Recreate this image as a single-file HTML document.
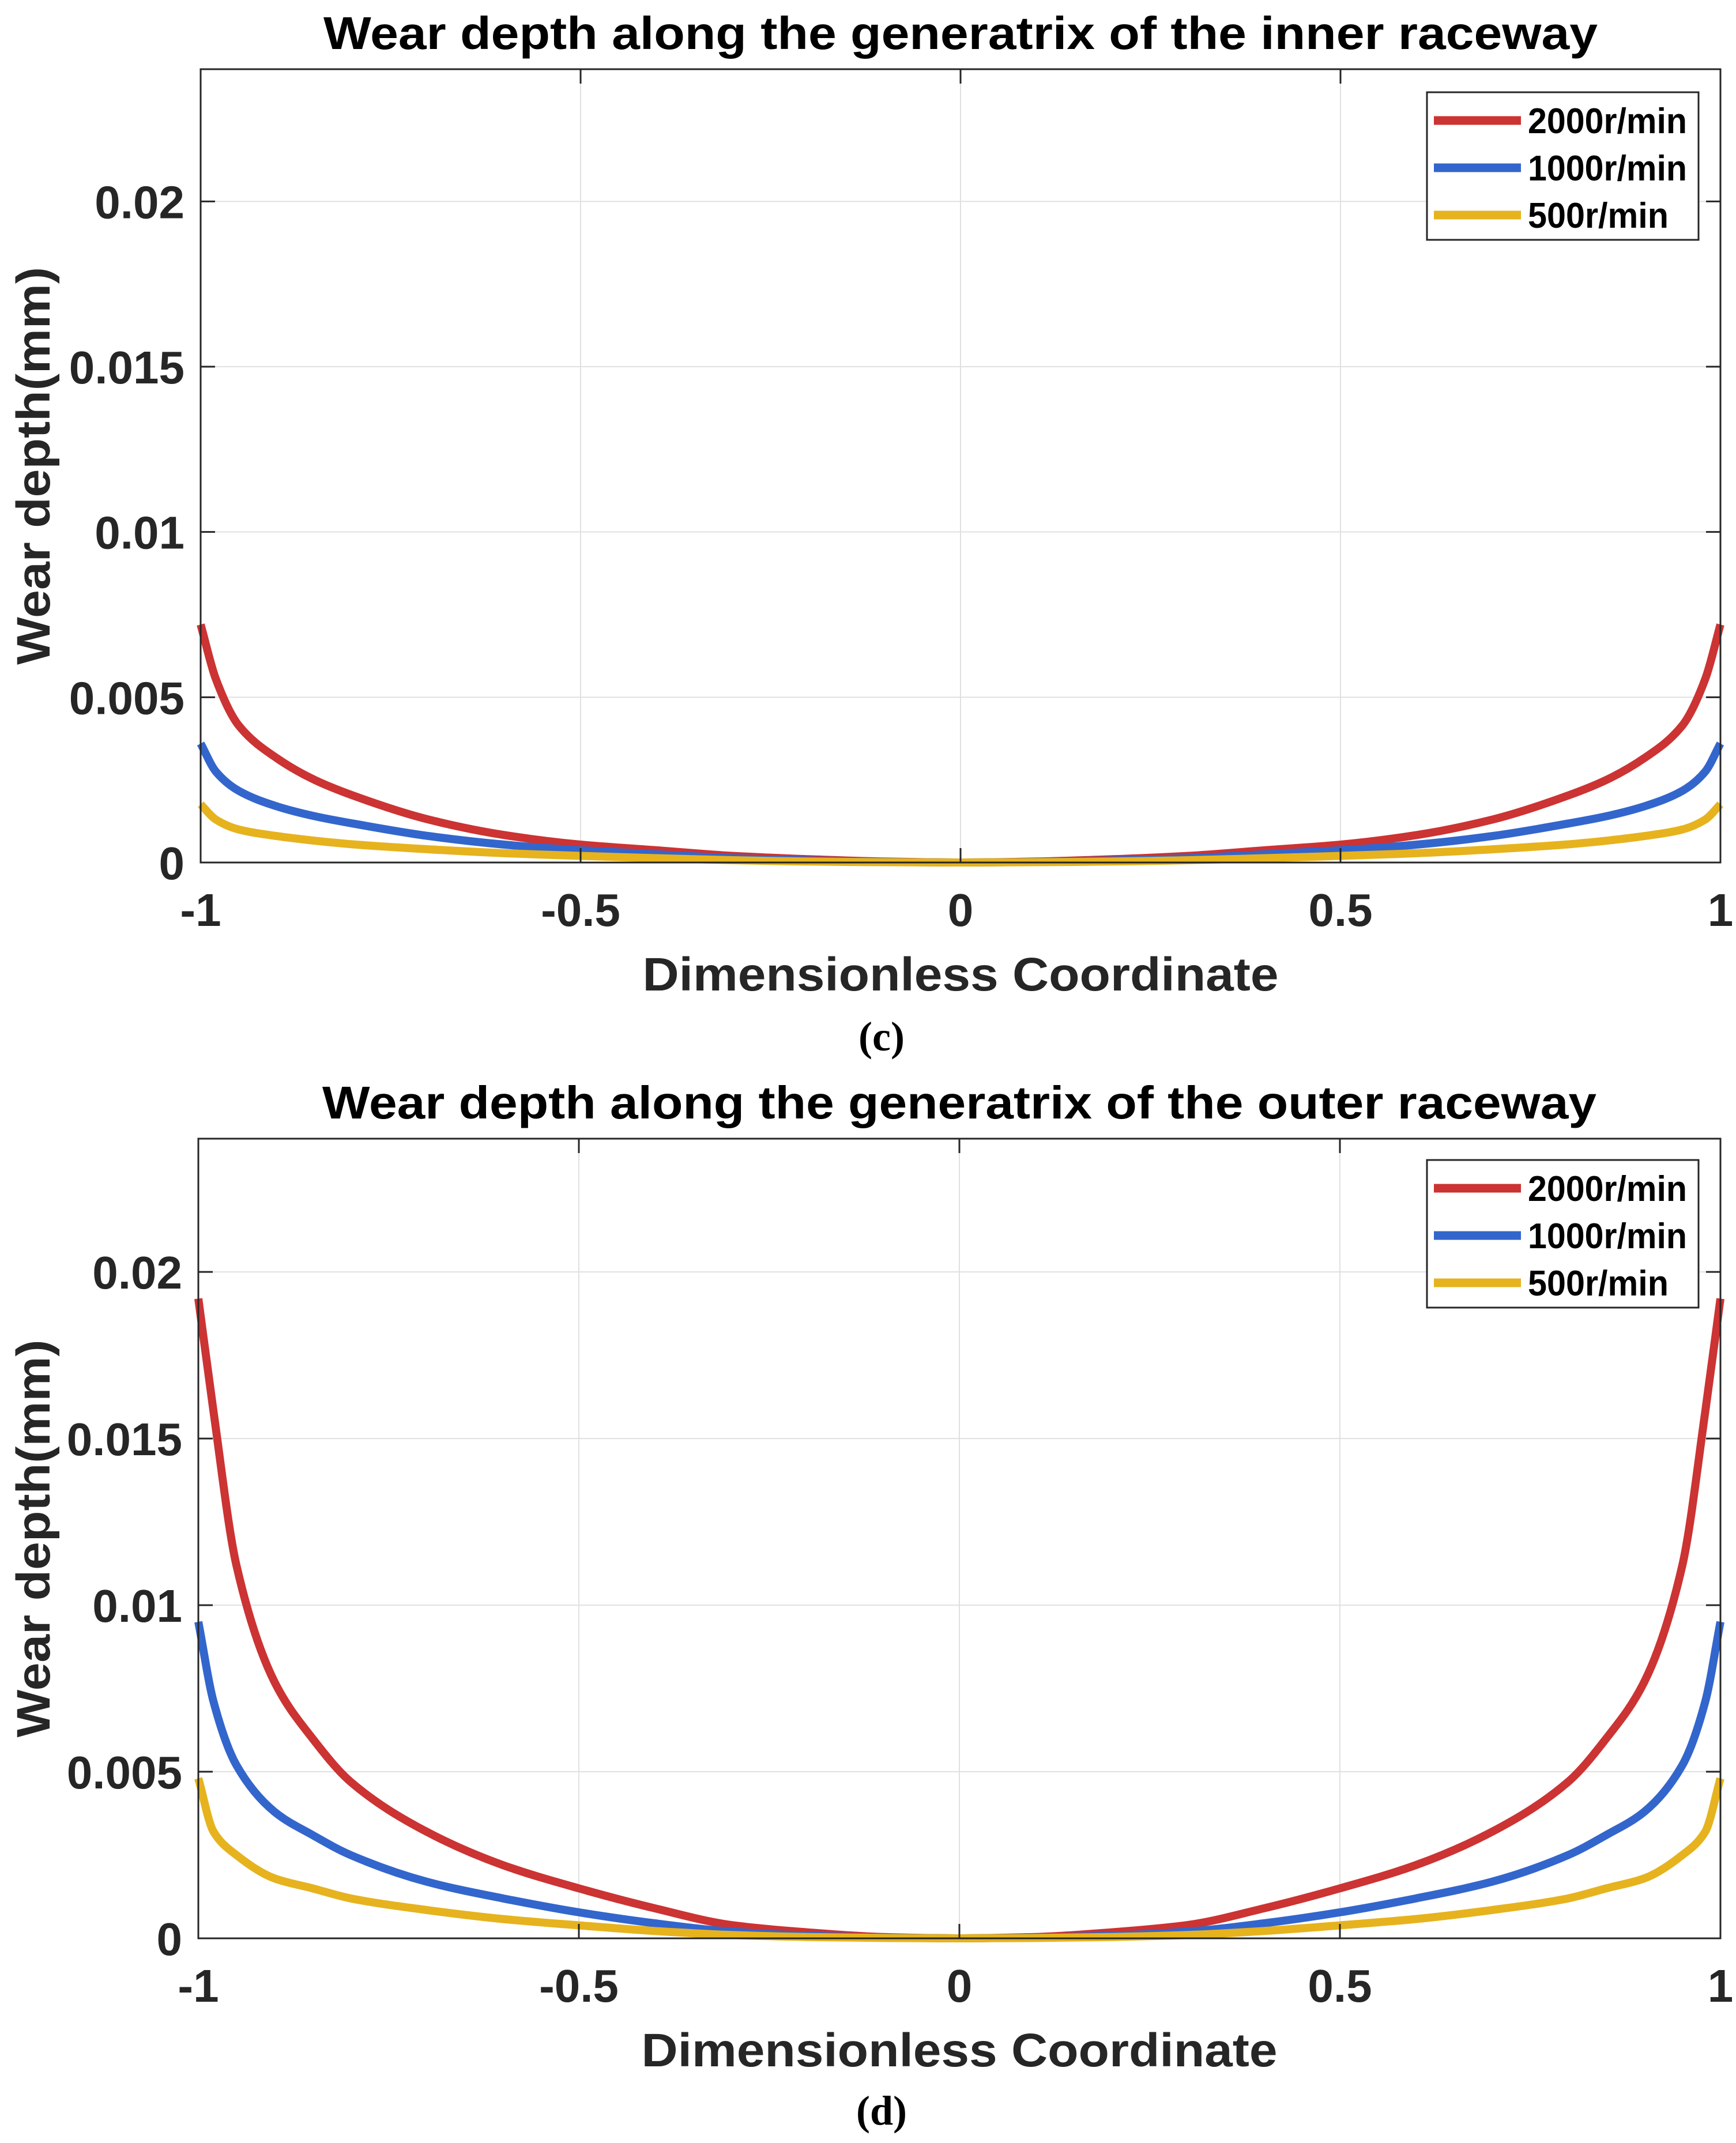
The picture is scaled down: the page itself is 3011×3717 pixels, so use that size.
<!DOCTYPE html>
<html><head><meta charset="utf-8"><style>
html,body{margin:0;padding:0;background:#fff;}
svg{display:block;font-family:"Liberation Sans",Arial,sans-serif;}
</style></head><body>
<svg id="fig" width="3011" height="3717" viewBox="0 0 3011 3717" xmlns="http://www.w3.org/2000/svg"></svg>
<script>
const xTicks = [-1, -0.5, 0, 0.5, 1];
const xTickLabels = ["-1", "-0.5", "0", "0.5", "1"];
const yTicks = [0, 0.005, 0.01, 0.015, 0.02];
const yTickLabels = ["0", "0.005", "0.01", "0.015", "0.02"];
const seriesNames = ["2000r/min", "1000r/min", "500r/min"];
const xs = [-1, -0.98, -0.95, -0.9, -0.85, -0.8, -0.7, -0.6, -0.5, -0.4, -0.3, -0.2, -0.1, 0, 0.1, 0.2, 0.3, 0.4, 0.5, 0.6, 0.7, 0.8, 0.85, 0.9, 0.95, 0.98, 1];
const innerRed = [0.0072, 0.00555, 0.00415, 0.00316, 0.0025, 0.00203, 0.0013, 0.00083, 0.00054, 0.00037, 0.0002, 0.0001, 0.00003, 0, 0.00003, 0.0001, 0.0002, 0.00037, 0.00054, 0.00083, 0.0013, 0.00203, 0.0025, 0.00316, 0.00415, 0.00555, 0.0072];
const innerBlue = [0.0036, 0.00275, 0.00217, 0.0017, 0.0014, 0.00118, 0.0008, 0.00054, 0.00037, 0.00025, 0.00013, 0.00006, 0.00002, 0, 0.00002, 0.00006, 0.00013, 0.00025, 0.00037, 0.00054, 0.0008, 0.00118, 0.0014, 0.0017, 0.00217, 0.00275, 0.0036];
const innerYellow = [0.00176, 0.0013, 0.001, 0.0008, 0.00066, 0.00055, 0.0004, 0.00028, 0.0002, 0.00013, 0.00007, 0.00003, 0.00001, 0, 0.00001, 0.00003, 0.00007, 0.00013, 0.0002, 0.00028, 0.0004, 0.00055, 0.00066, 0.0008, 0.001, 0.0013, 0.00176];
const outerRed = [0.0192, 0.0158, 0.0112, 0.0077, 0.006, 0.0047, 0.0032, 0.0022, 0.0015, 0.0009, 0.0004, 0.00018, 0.00004, 0, 0.00004, 0.00018, 0.0004, 0.0009, 0.0015, 0.0022, 0.0032, 0.0047, 0.006, 0.0077, 0.0112, 0.0158, 0.0192];
const outerBlue = [0.0095, 0.0071, 0.0052, 0.0038, 0.0031, 0.0025, 0.0017, 0.0012, 0.00078, 0.00045, 0.0002, 0.00008, 0.00002, 0, 0.00002, 0.00008, 0.0002, 0.00045, 0.00078, 0.0012, 0.0017, 0.0025, 0.0031, 0.0038, 0.0052, 0.0071, 0.0095];
const outerYellow = [0.0048, 0.0032, 0.0025, 0.0018, 0.0015, 0.0012, 0.00085, 0.00058, 0.00039, 0.00022, 0.0001, 0.00004, 0.00001, 0, 0.00001, 0.00004, 0.0001, 0.00022, 0.00039, 0.00058, 0.00085, 0.0012, 0.0015, 0.0018, 0.0025, 0.0032, 0.0048];

const NS = "http://www.w3.org/2000/svg";
const svg = document.getElementById("fig");
const colors = ["#CC3333", "#3366CC", "#E6B31E"];
function mk(tag, attrs, parent) {
  const e = document.createElementNS(NS, tag);
  for (const k in attrs) e.setAttribute(k, attrs[k]);
  (parent || svg).appendChild(e);
  return e;
}
function smoothPath(pts) {
  const n = pts.length;
  const dx = [], m = [], t = new Array(n);
  for (let i = 0; i < n - 1; i++) { dx[i] = pts[i+1][0] - pts[i][0]; m[i] = (pts[i+1][1] - pts[i][1]) / dx[i]; }
  t[0] = m[0]; t[n-1] = m[n-2];
  for (let i = 1; i < n - 1; i++) {
    if (m[i-1] * m[i] <= 0) t[i] = 0;
    else { const w1 = 2*dx[i] + dx[i-1], w2 = dx[i] + 2*dx[i-1]; t[i] = (w1 + w2) / (w1 / m[i-1] + w2 / m[i]); }
  }
  let d = "M" + pts[0][0].toFixed(1) + "," + pts[0][1].toFixed(1);
  for (let i = 0; i < n - 1; i++) {
    const h = dx[i] / 3;
    d += " C" + (pts[i][0] + h).toFixed(1) + "," + (pts[i][1] + t[i]*h).toFixed(1) + " " +
         (pts[i+1][0] - h).toFixed(1) + "," + (pts[i+1][1] - t[i+1]*h).toFixed(1) + " " +
         pts[i+1][0].toFixed(1) + "," + pts[i+1][1].toFixed(1);
  }
  return d;
}
function panel(cfg) {
  const g = mk("g", {});
  
  
  const L = cfg.left, R = cfg.right, T = cfg.top, B = cfg.bottom;
  const xS = v => L + (v + 1) / 2 * (R - L);
  const yS = v => B - v / 0.024 * (B - T);
  xTicks.forEach(v => {
    const l = mk("line", {x1: xS(v), x2: xS(v), y1: T, y2: B, stroke: "#e0e0e0", "stroke-width": 2}, g);
    
    
  });
  yTicks.forEach(v => {
    const l = mk("line", {x1: L, x2: R, y1: yS(v), y2: yS(v), stroke: "#e0e0e0", "stroke-width": 2}, g);
    
    
  });
  cfg.series.forEach((arr, si) => {
    const pts = xs.map((x, i) => [xS(x), yS(arr[i])]);
    const p = mk("path", {d: smoothPath(pts), fill: "none", stroke: colors[si], "stroke-width": 14, "stroke-linejoin": "round"}, g);
    
    
  });
  const box = mk("rect", {x: L, y: T, width: R - L, height: B - T, fill: "none", stroke: "#262626", "stroke-width": 3}, g);
  
  
  xTicks.forEach((v, i) => {
    mk("line", {x1: xS(v), x2: xS(v), y1: B, y2: B - 25, stroke: "#262626", "stroke-width": 3}, g);
    mk("line", {x1: xS(v), x2: xS(v), y1: T, y2: T + 25, stroke: "#262626", "stroke-width": 3}, g);
    const t = mk("text", {x: xS(v), y: B + 110, "text-anchor": "middle", "font-size": 80, "font-weight": "bold", fill: "#262626"}, g);
    t.textContent = xTickLabels[i];
    
    
  });
  yTicks.forEach((v, i) => {
    mk("line", {x1: L, x2: L + 25, y1: yS(v), y2: yS(v), stroke: "#262626", "stroke-width": 3}, g);
    mk("line", {x1: R, x2: R - 25, y1: yS(v), y2: yS(v), stroke: "#262626", "stroke-width": 3}, g);
    const t = mk("text", {x: L - 28, y: yS(v) + 29, "text-anchor": "end", "font-size": 80, "font-weight": "bold", fill: "#262626"}, g);
    t.textContent = yTickLabels[i];
    
    
  });
  const ti = mk("text", {x: (L + R) / 2, y: T - 35, "text-anchor": "middle", "font-size": 80, "font-weight": "bold", fill: "#000", textLength: 2210, lengthAdjust: "spacingAndGlyphs"}, g);
  ti.textContent = cfg.title;
  
  
  const xt = mk("text", {x: (L + R) / 2, y: B + 222, "text-anchor": "middle", "font-size": 82, "font-weight": "bold", fill: "#262626", textLength: 1103, lengthAdjust: "spacingAndGlyphs"}, g);
  xt.textContent = "Dimensionless Coordinate";
  
  
  const yc = (T + B) / 2;
  const yt = mk("text", {x: 0, y: 0, transform: "translate(86," + yc + ") rotate(-90)", "text-anchor": "middle", "font-size": 82, "font-weight": "bold", fill: "#262626", textLength: 690, lengthAdjust: "spacingAndGlyphs"}, g);
  yt.textContent = "Wear depth(mm)";
  
  
  const lg = mk("g", {}, g);
  
  
  mk("rect", {x: 2475, y: cfg.legTop, width: 471, height: 256, fill: "#fff", stroke: "#262626", "stroke-width": 3}, lg);
  seriesNames.forEach((n, i) => {
    const cy = cfg.legTop + 49 + i * 82;
    const ln = mk("line", {x1: 2487, x2: 2638, y1: cy, y2: cy, stroke: colors[i], "stroke-width": 15}, lg);
    
    
    const t = mk("text", {x: 2650, y: cy + 22, "font-size": 62, "font-weight": "bold", fill: "#000", textLength: n.length === 9 ? 276 : 244, lengthAdjust: "spacingAndGlyphs"}, lg);
    t.textContent = n;
    
    
  });
  const cap = mk("text", {x: 1529, y: cfg.capY, "text-anchor": "middle", "font-size": 72, "font-weight": "bold", fill: "#000", "font-family": "Liberation Serif, serif"}, g);
  cap.textContent = cfg.caption;
  
  
}
panel({name: "inner-raceway-chart", left: 348, right: 2984, top: 120, bottom: 1496, title: "Wear depth along the generatrix of the inner raceway", series: [innerRed, innerBlue, innerYellow], legTop: 160, caption: "(c)", capY: 1822});
panel({name: "outer-raceway-chart", left: 344, right: 2984, top: 1975, bottom: 3362, title: "Wear depth along the generatrix of the outer raceway", series: [outerRed, outerBlue, outerYellow], legTop: 2012, caption: "(d)", capY: 3685});
</script>
</body></html>
